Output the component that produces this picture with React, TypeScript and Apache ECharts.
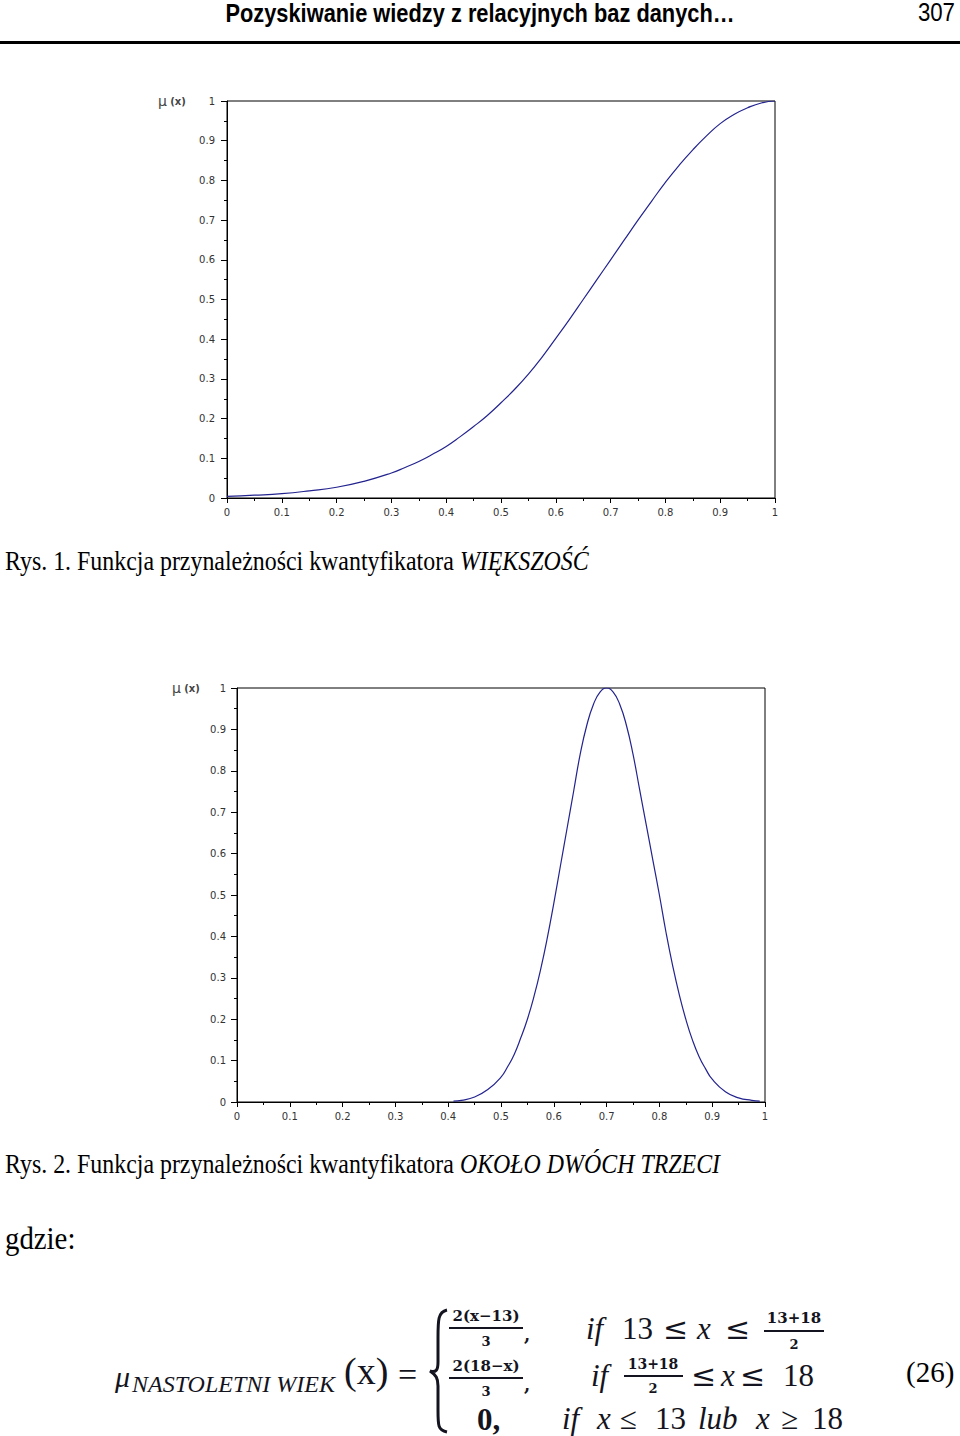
import React, { useEffect, useRef } from "react";
import * as echarts from "echarts";

// Rys. 1 – WIĘKSZOŚĆ
const majorityX = [0, 0.05, 0.1, 0.15, 0.2, 0.25, 0.3, 0.325, 0.35, 0.375, 0.4, 0.425, 0.45, 0.475, 0.5, 0.525, 0.55, 0.575, 0.6, 0.625, 0.65, 0.675, 0.7, 0.725, 0.75, 0.775, 0.8, 0.825, 0.85, 0.875, 0.9, 0.925, 0.95, 0.975, 1];
const majorityY = [0.004, 0.007, 0.011, 0.018, 0.027, 0.042, 0.063, 0.077, 0.092, 0.11, 0.13, 0.154, 0.18, 0.208, 0.24, 0.274, 0.312, 0.355, 0.402, 0.45, 0.5, 0.55, 0.6, 0.65, 0.7, 0.748, 0.795, 0.838, 0.877, 0.912, 0.943, 0.966, 0.983, 0.995, 1];

// Rys. 2 – OKOŁO DWÓCH TRZECI
const aboutX = [0.41, 0.425, 0.45, 0.475, 0.5, 0.5125, 0.525, 0.5375, 0.55, 0.5625, 0.575, 0.5875, 0.6, 0.6125, 0.625, 0.6375, 0.65, 0.6625, 0.675, 0.6875, 0.7, 0.7125, 0.725, 0.7375, 0.75, 0.7625, 0.775, 0.7875, 0.8, 0.8125, 0.825, 0.8375, 0.85, 0.8625, 0.875, 0.8875, 0.9, 0.925, 0.95, 0.975, 0.99];
const aboutY = [0.002, 0.004, 0.012, 0.03, 0.06, 0.085, 0.115, 0.155, 0.2, 0.255, 0.32, 0.395, 0.48, 0.57, 0.66, 0.75, 0.84, 0.91, 0.96, 0.99, 1, 0.99, 0.96, 0.91, 0.84, 0.755, 0.67, 0.585, 0.5, 0.41, 0.33, 0.26, 0.2, 0.15, 0.11, 0.08, 0.055, 0.025, 0.01, 0.004, 0.002];

const axisMin = 0;
const axisMax = 1;
const axisStep = 0.1;

const headerTitle = "Pozyskiwanie wiedzy z relacyjnych baz danych…";
const pageNumber = "307";
const caption1 = "Rys. 1. Funkcja przynależności kwantyfikatora ";
const caption1Italic = "WIĘKSZOŚĆ";
const caption2 = "Rys. 2. Funkcja przynależności kwantyfikatora ";
const caption2Italic = "OKOŁO DWÓCH TRZECI";

const LINE = "#23238f";
const INK = "#141420";
const SANS = '"Liberation Sans", Arial, sans-serif';
const SERIF = '"Liberation Serif", "Times New Roman", serif';
const MATH = '"DejaVu Serif", "Liberation Serif", serif';

function axisX(gridIndex: number) {
  return {
    type: "value",
    gridIndex,
    min: axisMin,
    max: axisMax,
    interval: axisStep,
    axisLine: { show: true, lineStyle: { color: "#000", width: 1 } },
    axisTick: { show: true, inside: false, length: 5, lineStyle: { color: "#000" } },
    minorTick: { show: true, splitNumber: 2, length: 3, lineStyle: { color: "#000" } },
    splitLine: { show: false },
    axisLabel: { margin: 9, color: "#333", fontFamily: '"DejaVu Sans", sans-serif', fontSize: 10 },
  };
}
function axisY(gridIndex: number, margin: number) {
  return {
    type: "value",
    gridIndex,
    min: axisMin,
    max: axisMax,
    interval: axisStep,
    axisLine: { show: true, lineStyle: { color: "#000", width: 1 } },
    axisTick: { show: true, inside: false, length: 6, lineStyle: { color: "#000" } },
    minorTick: { show: true, splitNumber: 2, length: 3, lineStyle: { color: "#000" } },
    splitLine: { show: false },
    axisLabel: { margin, color: "#333", fontFamily: '"DejaVu Sans", sans-serif', fontSize: 10 },
  };
}

function txt(x: number, y: number, text: string, font: string, extra: any = {}) {
  const { style, ...rest } = extra;
  return {
    type: "text",
    x,
    y,
    silent: true,
    ...rest,
    style: { text, font, fill: INK, align: "left", verticalAlign: "middle", ...(style || {}) },
  };
}
function bar(x1: number, x2: number, y: number) {
  return { type: "line", silent: true, shape: { x1, y1: y, x2, y2: y }, style: { stroke: INK, lineWidth: 1.8 } };
}
function muLabel(x: number, y: number) {
  return {
    type: "text",
    x,
    y,
    silent: true,
    style: {
      text: "{m|μ} {p|(x)}",
      verticalAlign: "middle",
      rich: {
        m: { fontSize: 14, fontFamily: '"DejaVu Sans", sans-serif', fill: "#444" },
        p: { fontSize: 10, fontFamily: '"DejaVu Sans", sans-serif', fill: "#444", fontWeight: "bold" },
      },
    },
  };
}
function caption(y: number, plain: string, italic: string) {
  return {
    type: "text",
    x: 5,
    y,
    scaleX: 0.885,
    silent: true,
    style: {
      text: plain + "{i|" + italic + "}",
      verticalAlign: "middle",
      font: "27px " + SERIF,
      fill: "#000",
      rich: { i: { fontStyle: "italic", fontSize: 27, fontFamily: SERIF, fill: "#000" } },
    },
  };
}

export default function App() {
  const ref = useRef<HTMLDivElement>(null);
  useEffect(() => {
    if (!ref.current) return;
    echarts.graphic.registerShape(
      "brace",
      echarts.graphic.extendPath(
        "M 17 0 C 8 2 8 10 8 28 L 8 52 C 8 60 6 63 0 61 C 6 65 8 68 8 76 L 8 100 C 8 116 8 120 17 122",
        {}
      )
    );
    const chart = echarts.init(ref.current, null, { renderer: "svg" });
    const F = 31;
    const option: any = {
      animation: false,
      backgroundColor: "#fff",
      grid: [
        { left: 227, top: 101, width: 548, height: 397, show: true, borderColor: "#000", borderWidth: 1, backgroundColor: "transparent" },
        { left: 237, top: 688, width: 528, height: 414, show: true, borderColor: "#000", borderWidth: 1, backgroundColor: "transparent" },
      ],
      xAxis: [axisX(0), axisX(1)],
      yAxis: [axisY(0, 12), axisY(1, 11)],
      series: [
        {
          type: "line",
          xAxisIndex: 0,
          yAxisIndex: 0,
          data: majorityX.map((x, i) => [x, majorityY[i]]),
          showSymbol: false,
          smooth: true,
          lineStyle: { color: LINE, width: 1.2 },
        },
        {
          type: "line",
          xAxisIndex: 1,
          yAxisIndex: 1,
          data: aboutX.map((x, i) => [x, aboutY[i]]),
          showSymbol: false,
          smooth: true,
          lineStyle: { color: LINE, width: 1.2 },
        },
      ],
      graphic: [
        // header
        txt(480, 13, headerTitle, "bold 25px " + SANS, { scaleX: 0.873, style: { align: "center", fill: "#000" } }),
        txt(955, 13, pageNumber, "25px " + SANS, { scaleX: 0.89, style: { align: "right", fill: "#000" } }),
        { type: "rect", silent: true, shape: { x: 0, y: 41, width: 960, height: 3 }, style: { fill: "#000" } },
        // axis names
        muLabel(158, 101),
        muLabel(172, 688),
        // captions
        caption(561, caption1, caption1Italic),
        caption(1164, caption2, caption2Italic),
        txt(5, 1238, "gdzie:", "31px " + SERIF, { scaleX: 0.93, style: { fill: "#000" } }),
        // formula left side
        txt(115, 1376, "μ", "italic 30px " + SERIF),
        txt(132, 1384, "NASTOLETNI WIEK", "italic 24px " + SERIF),
        txt(344, 1371, "(x)", "38px " + SERIF),
        txt(398, 1374, "=", "34px " + SERIF),
        { type: "brace", x: 430, y: 1310, scaleX: 1, scaleY: 1, silent: true, style: { stroke: INK, lineWidth: 3, fill: null } },
        // row 1
        txt(486, 1316, "2(x−13)", "bold 15px " + MATH, { style: { align: "center" } }),
        bar(449, 523, 1328),
        txt(486, 1341, "3", "bold 13px " + MATH, { style: { align: "center" } }),
        txt(524, 1334, ",", "bold 18px " + MATH),
        // row 2
        txt(486, 1366, "2(18−x)", "bold 15px " + MATH, { style: { align: "center" } }),
        bar(449, 523, 1378),
        txt(486, 1391, "3", "bold 13px " + MATH, { style: { align: "center" } }),
        txt(524, 1384, ",", "bold 18px " + MATH),
        // row 3
        txt(477, 1419, "0,", "bold 31px " + SERIF),
        // conditions row 1
        txt(586, 1328, "if", "italic " + F + "px " + SERIF),
        txt(622, 1328, "13", F + "px " + SERIF),
        txt(663, 1328, "≤", "30px " + MATH),
        txt(697, 1328, "x", "italic " + F + "px " + SERIF),
        txt(725, 1328, "≤", "30px " + MATH),
        txt(794, 1318, "13+18", "bold 15px " + MATH, { style: { align: "center" } }),
        bar(764, 824, 1331),
        txt(794, 1344, "2", "bold 13px " + MATH, { style: { align: "center" } }),
        // conditions row 2
        txt(591, 1375, "if", "italic " + F + "px " + SERIF),
        txt(653, 1364, "13+18", "bold 14px " + MATH, { style: { align: "center" } }),
        bar(624, 683, 1376),
        txt(653, 1388, "2", "bold 13px " + MATH, { style: { align: "center" } }),
        txt(691, 1375, "≤", "30px " + MATH),
        txt(721, 1375, "x", "italic " + F + "px " + SERIF),
        txt(740, 1375, "≤", "30px " + MATH),
        txt(783, 1375, "18", F + "px " + SERIF),
        // conditions row 3
        txt(562, 1418, "if", "italic " + F + "px " + SERIF),
        txt(597, 1418, "x", "italic " + F + "px " + SERIF),
        txt(620, 1418, "≤", F + "px " + SERIF),
        txt(655, 1418, "13", F + "px " + SERIF),
        txt(698, 1418, "lub", "italic " + F + "px " + SERIF),
        txt(756, 1418, "x", "italic " + F + "px " + SERIF),
        txt(781, 1418, "≥", F + "px " + SERIF),
        txt(812, 1418, "18", F + "px " + SERIF),
        txt(906, 1372, "(26)", "29px " + SERIF, { style: { fill: "#000" } }),
      ],
    };
    chart.setOption(option);
    return () => chart.dispose();
  }, []);
  return <div ref={ref} style={{ position: "absolute", left: 0, top: 0, width: 960, height: 1436 }} />;
}
